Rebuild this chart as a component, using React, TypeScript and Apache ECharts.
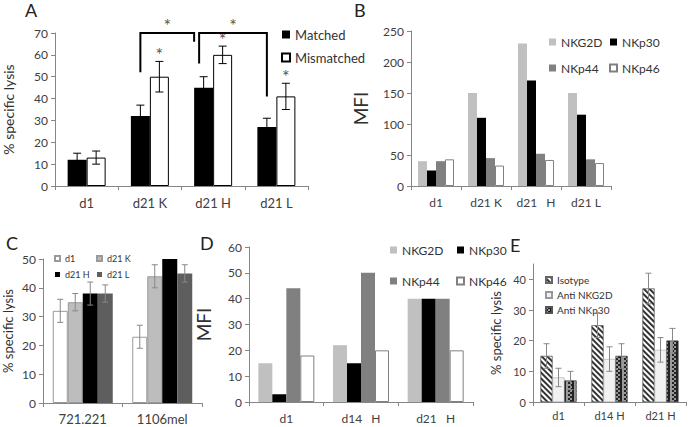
import React, { useEffect, useRef } from 'react';
import * as echarts from 'echarts';

// ---------- Panel A ----------
const catA = ['d1', 'd21 K', 'd21 H', 'd21 L'];
const matchedA = [12, 32, 45, 27];
const matchedErrA = [3, 5, 5, 4];
const mismatchedA = [13, 50, 60, 41];
const mismatchedErrA = [3, 7, 4, 6];
const starsA = [0, 1, 1, 1];
// [fromCategory, toCategory, fromValue, toValue, topValue]
const bracketsA = [
  [1, 2, 52, 66, 70],
  [2, 3, 56, 41, 70],
];

// ---------- Panel B ----------
const catB = ['d1', 'd21 K', 'd21   H', 'd21 L'];
const nkg2dB = [40, 150, 230, 150];
const nkp30B = [25, 110, 170, 115];
const nkp44B = [40, 45, 52, 43];
const nkp46B = [43, 33, 42, 37];

// ---------- Panel C ----------
const catC = ['721.221', '1106mel'];
const d1C = [32, 23];
const d1ErrC = [4, 4];
const d21KC = [35, 44];
const d21KErrC = [3, 4];
const d21HC = [38, 50];
const d21HErrC = [4, 0];
const d21LC = [38, 45];
const d21LErrC = [3, 3];

// ---------- Panel D ----------
const catD = ['d1', 'd14   H', 'd21   H'];
const nkg2dD = [15, 22, 40];
const nkp30D = [3, 15, 40];
const nkp44D = [44, 50, 40];
const nkp46D = [18, 20, 20];

// ---------- Panel E ----------
const catE = ['d1', 'd14 H', 'd21 H'];
const isotypeE = [15, 25, 37];
const isotypeErrE = [4, 4, 5];
const antiNKG2DE = [8, 14, 17];
const antiNKG2DErrE = [3, 4, 4];
const antiNKp30E = [7, 15, 20];
const antiNKp30ErrE = [3, 4, 4];

const FONT = 'Lato, "Liberation Sans", sans-serif';
const AX = '#868686';
const LBL = '#404040';

function xAx(idx: number, cats: string[], fontSize: number, margin: number) {
  return {
    type: 'category', gridIndex: idx, data: cats,
    axisLine: { show: true, lineStyle: { color: AX, width: 1 } },
    axisTick: { show: true, length: 4, lineStyle: { color: AX } },
    axisLabel: { color: LBL, fontSize, fontFamily: FONT, margin, interval: 0 },
    splitLine: { show: false },
  };
}
function yAx(idx: number, max: number, interval: number, name: string, nameSize: number, nameGap: number, fontSize: number) {
  return {
    type: 'value', gridIndex: idx, min: 0, max, interval,
    name, nameLocation: 'middle', nameRotate: 90, nameGap,
    nameTextStyle: { fontSize: nameSize, color: '#303030', fontFamily: FONT },
    axisLine: { show: true, lineStyle: { color: AX, width: 1 } },
    axisTick: { show: true, length: 4, lineStyle: { color: AX } },
    axisLabel: { color: LBL, fontSize, fontFamily: FONT, margin: 7, showMaxLabel: max % interval === 0 },
    splitLine: { show: false },
  };
}
function bar(idx: number, name: string, data: number[], barWidth: number, itemStyle: any) {
  return {
    type: 'bar', name, xAxisIndex: idx, yAxisIndex: idx, data, barWidth, barGap: '0%', itemStyle,
  };
}
function errSeries(idx: number, vals: number[], errs: number[], offset: number, color: string, cap: number) {
  return {
    type: 'custom', xAxisIndex: idx, yAxisIndex: idx, silent: true, z: 10,
    data: vals.map((v, i) => [i, v, errs[i]]),
    renderItem: (params: any, api: any) => {
      const i = api.value(0), v = api.value(1), e = api.value(2);
      if (!e) return null;
      const top = api.coord([i, v + e]);
      const bot = api.coord([i, v - e]);
      const x = top[0] + offset;
      const style = { stroke: color, lineWidth: 1 };
      return {
        type: 'group', children: [
          { type: 'line', shape: { x1: x, y1: top[1], x2: x, y2: bot[1] }, style },
          { type: 'line', shape: { x1: x - cap, y1: top[1], x2: x + cap, y2: top[1] }, style },
          { type: 'line', shape: { x1: x - cap, y1: bot[1], x2: x + cap, y2: bot[1] }, style },
        ],
      };
    },
  };
}
function legend(left: number, top: number, data: string[], size: number, gap: number, fontSize: number) {
  return {
    show: true, orient: 'vertical', left, top, data, icon: 'rect',
    itemWidth: size, itemHeight: size, itemGap: gap, selectedMode: false,
    textStyle: { fontSize, color: '#333333', fontFamily: FONT, lineHeight: fontSize + 2 },
  };
}

const grayNKG2D = { color: '#c0c0c0' };
const blackNKp30 = { color: '#000000' };
const grayNKp44 = { color: '#808080' };
const whiteNKp46 = { color: '#ffffff', borderColor: '#808080', borderWidth: 1 };

const bracketEnds = [[-9.5, -19], [-14, -9.5]];
const starStyle = { text: '*', fill: '#555', fontSize: 18, fontFamily: FONT, align: 'center', verticalAlign: 'top' };

function buildOption() {
  return {
    animation: false,
    backgroundColor: '#ffffff',
    grid: [
      { left: 53, top: 33, width: 255, height: 153 },
      { left: 411, top: 31, width: 200, height: 155 },
      { left: 43, top: 259, width: 159, height: 144 },
      { left: 249, top: 247, width: 224, height: 155 },
      { left: 533, top: 264, width: 153, height: 138 },
    ],
    xAxis: [
      xAx(0, catA, 13, 10),
      xAx(1, catB, 12, 10),
      xAx(2, catC, 13, 9),
      xAx(3, catD, 12, 10),
      xAx(4, catE, 11, 8),
    ],
    yAxis: [
      yAx(0, 70, 10, '% specific lysis', 14, 40, 12),
      yAx(1, 250, 50, 'MFI', 19, 41, 12),
      yAx(2, 50, 10, '% specific lysis', 13, 29, 12),
      yAx(3, 60, 10, 'MFI', 19, 36, 12),
      yAx(4, 45, 10, '% specific lysis', 13, 31, 11),
    ],
    legend: [
      legend(276, 22, ['Matched', 'Mismatched'], 8, 8, 13),
      legend(544, 30, ['NKG2D', 'NKp44'], 7, 12, 12),
      legend(604, 30, ['NKp30', 'NKp46'], 7, 12, 12),
      legend(49, 248, ['d1', 'd21 H'], 5, 5, 9),
      legend(91, 248, ['d21 K', 'd21 L'], 5, 5, 9),
      legend(385, 238, ['NKG2D', 'NKp44'], 7, 17, 12),
      legend(451, 238, ['NKp30', 'NKp46'], 7, 17, 12),
      legend(540, 269, ['Isotype', 'Anti NKG2D', 'Anti NKp30'], 6, 3, 10),
    ],
    graphic: [
      { type: 'text', left: 25, top: 1, style: { text: 'A', fontSize: 18, fill: '#222', fontFamily: FONT } },
      { type: 'text', left: 354, top: 1, style: { text: 'B', fontSize: 18, fill: '#222', fontFamily: FONT } },
      { type: 'text', left: 6, top: 234, style: { text: 'C', fontSize: 18, fill: '#222', fontFamily: FONT } },
      { type: 'text', left: 200, top: 234, style: { text: 'D', fontSize: 18, fill: '#222', fontFamily: FONT } },
      { type: 'text', left: 510, top: 236, style: { text: 'E', fontSize: 18, fill: '#222', fontFamily: FONT } },
    ],
    series: [
      // A
      bar(0, 'Matched', matchedA, 19, { color: '#000000' }),
      bar(0, 'Mismatched', mismatchedA, 19, { color: '#ffffff', borderColor: '#000000', borderWidth: 1 }),
      errSeries(0, matchedA, matchedErrA, -9.5, '#000', 4),
      errSeries(0, mismatchedA, mismatchedErrA, 9.5, '#000', 4),
      {
        type: 'custom', xAxisIndex: 0, yAxisIndex: 0, silent: true, z: 11,
        data: mismatchedA.map((v, i) => [i, v + mismatchedErrA[i], starsA[i]]),
        renderItem: (params: any, api: any) => {
          if (!api.value(2)) return null;
          const p = api.coord([api.value(0), api.value(1)]);
          return { type: 'text', x: p[0] + 9.5, y: p[1] - 16, style: starStyle };
        },
      },
      {
        type: 'custom', xAxisIndex: 0, yAxisIndex: 0, silent: true, z: 11,
        data: bracketsA,
        renderItem: (params: any, api: any) => {
          const k = params.dataIndex;
          const a = api.coord([api.value(0), api.value(2)]);
          const b = api.coord([api.value(1), api.value(3)]);
          const t = api.coord([api.value(0), api.value(4)]);
          const x1 = a[0] + bracketEnds[k][0];
          const x2 = b[0] + bracketEnds[k][1];
          return {
            type: 'group', children: [
              {
                type: 'polyline',
                shape: { points: [[x1, a[1]], [x1, t[1]], [x2, t[1]], [x2, b[1]]] },
                style: { stroke: '#000', lineWidth: 2, fill: null },
              },
              { type: 'text', x: (x1 + x2) / 2, y: t[1] - 17, style: starStyle },
            ],
          };
        },
      },
      // B
      bar(1, 'NKG2D', nkg2dB, 9, grayNKG2D),
      bar(1, 'NKp30', nkp30B, 9, blackNKp30),
      bar(1, 'NKp44', nkp44B, 9, grayNKp44),
      bar(1, 'NKp46', nkp46B, 9, whiteNKp46),
      // C
      bar(2, 'd1', d1C, 15, { color: '#ffffff', borderColor: '#9a9a9a', borderWidth: 1 }),
      bar(2, 'd21 K', d21KC, 15, { color: '#bdbdbd', borderColor: '#9a9a9a', borderWidth: 1 }),
      bar(2, 'd21 H', d21HC, 15, { color: '#000000' }),
      bar(2, 'd21 L', d21LC, 15, { color: '#5e5e5e' }),
      errSeries(2, d1C, d1ErrC, -22.5, '#888', 3),
      errSeries(2, d21KC, d21KErrC, -7.5, '#888', 3),
      errSeries(2, d21HC, d21HErrC, 7.5, '#888', 3),
      errSeries(2, d21LC, d21LErrC, 22.5, '#888', 3),
      // D
      bar(3, 'NKG2D', nkg2dD, 14, grayNKG2D),
      bar(3, 'NKp30', nkp30D, 14, blackNKp30),
      bar(3, 'NKp44', nkp44D, 14, grayNKp44),
      bar(3, 'NKp46', nkp46D, 14, whiteNKp46),
      // E
      bar(4, 'Isotype', isotypeE, 12, {
        color: '#ffffff', borderColor: '#666', borderWidth: 0.5,
        decal: { symbol: 'rect', symbolSize: 1, dashArrayX: [1, 0], dashArrayY: [1.5, 1.5], rotation: Math.PI / 4, color: '#333' },
      }),
      bar(4, 'Anti NKG2D', antiNKG2DE, 12, { color: '#f1f1f1', borderColor: '#999', borderWidth: 0.5 }),
      bar(4, 'Anti NKp30', antiNKp30E, 12, {
        color: '#9a9a9a', borderColor: '#555', borderWidth: 0.5,
        decal: { symbol: 'rect', symbolSize: 1, dashArrayX: [[1.5, 1.5], [0, 1.5, 1.5]], dashArrayY: [1.5, 0], color: '#222' },
      }),
      errSeries(4, isotypeE, isotypeErrE, -12, '#888', 3),
      errSeries(4, antiNKG2DE, antiNKG2DErrE, 0, '#888', 3),
      errSeries(4, antiNKp30E, antiNKp30ErrE, 12, '#888', 3),
    ],
  };
}

export default function App() {
  const ref = useRef<HTMLDivElement>(null);
  useEffect(() => {
    if (!ref.current) return;
    const chart = echarts.init(ref.current, null, { renderer: 'svg' });
    chart.setOption(buildOption() as any);
    return () => chart.dispose();
  }, []);
  return (
    <div
      ref={ref}
      style={{ position: 'absolute', left: 0, top: 0, width: 689, height: 427, background: '#fff' }}
    />
  );
}
